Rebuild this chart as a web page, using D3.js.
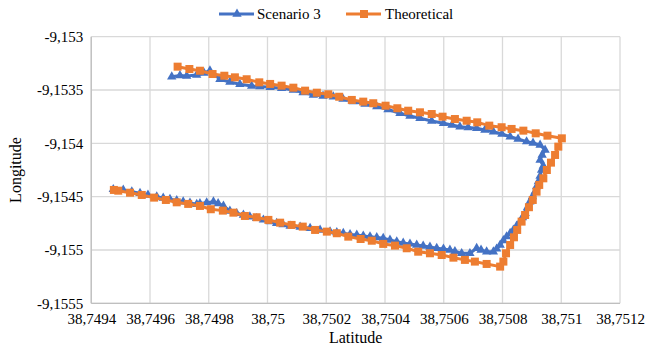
<!DOCTYPE html>
<html><head><meta charset="utf-8">
<script src="https://cdn.jsdelivr.net/npm/d3@7/dist/d3.min.js"></script>
<style>body{margin:0;background:#fff}svg{display:block}svg text{font-family:"Liberation Serif","Times New Roman",serif !important;fill:#000}</style>
</head><body><svg id="c" width="647" height="347"></svg>
<script>
const xTicks = [38.7494,38.7496,38.7498,38.75,38.7502,38.7504,38.7506,38.7508,38.751,38.7512];
const xTickLabels = ["38,7494","38,7496","38,7498","38,75","38,7502","38,7504","38,7506","38,7508","38,751","38,7512"];
const yTicks = [-9.153,-9.1535,-9.154,-9.1545,-9.155,-9.1555];
const yTickLabels = ["-9,153","-9,1535","-9,154","-9,1545","-9,155","-9,1555"];
const seriesNames = ["Scenario 3","Theoretical"];

const scenarioLat = [38.749674,38.749702,38.749725,38.749759,38.749784,38.749804,38.749838,38.749872,38.749906,38.749946,38.749974,38.750009,38.750048,38.750088,38.750121,38.750156,38.750189,38.750224,38.750257,38.750292,38.750332,38.750372,38.750410,38.750451,38.750485,38.750519,38.750559,38.750599,38.750628,38.750655,38.750683,38.750712,38.750740,38.750769,38.750798,38.750826,38.750853,38.750882,38.750904,38.750928,38.750945,38.750935,38.750928,38.750939,38.750933,38.750928,38.750922,38.750916,38.750911,38.750902,38.750893,38.750885,38.750877,38.750868,38.750860,38.750848,38.750837,38.750826,38.750814,38.750803,38.750792,38.750780,38.750769,38.750746,38.750727,38.750712,38.750689,38.750661,38.750638,38.750621,38.750599,38.750576,38.750553,38.750530,38.750508,38.750485,38.750462,38.750440,38.750417,38.750394,38.750372,38.750349,38.750326,38.750304,38.750281,38.750258,38.750236,38.750213,38.750179,38.750145,38.750111,38.750077,38.750053,38.750031,38.750009,38.749986,38.749963,38.749940,38.749918,38.749895,38.749872,38.749850,38.749832,38.749816,38.749793,38.749770,38.749759,38.749736,38.749713,38.749691,38.749668,38.749645,38.749623,38.749593,38.749566,38.749538,38.749509,38.749475];
const scenarioLon = [-9.153375,-9.153364,-9.153368,-9.153359,-9.153340,-9.153319,-9.153399,-9.153425,-9.153446,-9.153462,-9.153467,-9.153474,-9.153484,-9.153500,-9.153523,-9.153547,-9.153556,-9.153563,-9.153584,-9.153609,-9.153631,-9.153656,-9.153683,-9.153718,-9.153743,-9.153765,-9.153790,-9.153812,-9.153828,-9.153844,-9.153851,-9.153859,-9.153875,-9.153891,-9.153912,-9.153938,-9.153959,-9.153984,-9.153997,-9.154015,-9.154062,-9.154109,-9.154156,-9.154212,-9.154250,-9.154306,-9.154359,-9.154406,-9.154453,-9.154500,-9.154547,-9.154601,-9.154656,-9.154695,-9.154734,-9.154775,-9.154812,-9.154843,-9.154875,-9.154911,-9.154953,-9.154990,-9.155016,-9.155016,-9.155000,-9.154984,-9.155031,-9.155031,-9.155014,-9.155000,-9.154990,-9.154984,-9.154972,-9.154962,-9.154953,-9.154943,-9.154934,-9.154922,-9.154906,-9.154890,-9.154883,-9.154875,-9.154868,-9.154859,-9.154854,-9.154843,-9.154836,-9.154828,-9.154812,-9.154796,-9.154784,-9.154775,-9.154761,-9.154749,-9.154733,-9.154718,-9.154703,-9.154688,-9.154672,-9.154656,-9.154634,-9.154587,-9.154564,-9.154547,-9.154556,-9.154564,-9.154571,-9.154559,-9.154547,-9.154536,-9.154524,-9.154512,-9.154500,-9.154484,-9.154468,-9.154453,-9.154437,-9.154431];

const theoLat = [38.749694,38.749734,38.749770,38.749813,38.749853,38.749889,38.749929,38.749972,38.750009,38.750048,38.750088,38.750128,38.750168,38.750207,38.750244,38.750287,38.750326,38.750360,38.750402,38.750442,38.750479,38.750519,38.750559,38.750596,38.750638,38.750678,38.750714,38.750755,38.750797,38.750831,38.750871,38.750913,38.750953,38.751002,38.750990,38.750979,38.750965,38.750951,38.750939,38.750925,38.750916,38.750903,38.750890,38.750877,38.750865,38.750850,38.750839,38.750826,38.750812,38.750803,38.750792,38.750746,38.750706,38.750672,38.750633,38.750593,38.750553,38.750513,38.750474,38.750434,38.750394,38.750355,38.750317,38.750275,38.750236,38.750202,38.750162,38.750120,38.750082,38.750043,38.750003,38.749963,38.749923,38.749884,38.749848,38.749807,38.749770,38.749730,38.749691,38.749654,38.749614,38.749572,38.749532,38.749492,38.749477];
const theoLon = [-9.153281,-9.153303,-9.153319,-9.153350,-9.153366,-9.153381,-9.153399,-9.153428,-9.153443,-9.153459,-9.153478,-9.153506,-9.153525,-9.153540,-9.153563,-9.153593,-9.153609,-9.153624,-9.153647,-9.153671,-9.153694,-9.153709,-9.153725,-9.153750,-9.153772,-9.153788,-9.153803,-9.153834,-9.153849,-9.153865,-9.153881,-9.153906,-9.153928,-9.153953,-9.154031,-9.154109,-9.154181,-9.154250,-9.154328,-9.154390,-9.154453,-9.154531,-9.154599,-9.154672,-9.154734,-9.154812,-9.154881,-9.154953,-9.155031,-9.155109,-9.155156,-9.155131,-9.155109,-9.155093,-9.155072,-9.155047,-9.155031,-9.155016,-9.154984,-9.154959,-9.154943,-9.154913,-9.154897,-9.154875,-9.154843,-9.154828,-9.154812,-9.154781,-9.154765,-9.154744,-9.154718,-9.154693,-9.154681,-9.154650,-9.154631,-9.154618,-9.154587,-9.154568,-9.154553,-9.154531,-9.154509,-9.154484,-9.154463,-9.154444,-9.154437];

const blue = "#4472C4", orange = "#ED7D31";
const FONT = '"Liberation Serif","Times New Roman",serif';
const svg = d3.select("#c");
const m = {l:91.25, r:620, t:36.7, b:303.3};
const x = d3.scaleLinear().domain([38.7494,38.7512]).range([m.l,m.r]);
const y = d3.scaleLinear().domain([-9.1555,-9.153]).range([m.b,m.t]);

const g = svg.append("g");
g.selectAll(".vg").data(xTicks).enter().append("line")
  .attr("x1",d=>x(d)).attr("x2",d=>x(d)).attr("y1",m.t).attr("y2",m.b)
  .attr("stroke","#d9d9d9").attr("stroke-width",1.3);
g.selectAll(".hg").data(yTicks).enter().append("line")
  .attr("x1",m.l).attr("x2",m.r).attr("y1",d=>y(d)).attr("y2",d=>y(d))
  .attr("stroke","#d9d9d9").attr("stroke-width",1.3);
svg.append("line").attr("x1",m.l).attr("x2",m.l).attr("y1",m.t).attr("y2",m.b).attr("stroke","#bfbfbf").attr("stroke-width",1.3);
svg.append("line").attr("x1",m.l).attr("x2",m.r).attr("y1",m.b).attr("y2",m.b).attr("stroke","#bfbfbf").attr("stroke-width",1.3);

const xAxis = d3.axisBottom(x).tickValues(xTicks).tickSize(0).tickPadding(0).tickFormat((d,i)=>xTickLabels[i]);
const xa = svg.append("g").attr("transform",`translate(0,${m.b+8})`).call(xAxis).attr("font-family",FONT).attr("font-size",15);
xa.select(".domain").remove();
xa.selectAll("text").style("font-family",FONT).style("font-size","15px").attr("fill","#000").attr("dy","0.85em");
const yAxis = d3.axisLeft(y).tickValues(yTicks).tickSize(0).tickPadding(0).tickFormat((d,i)=>yTickLabels[i]);
const ya = svg.append("g").attr("transform",`translate(${m.l-8},0)`).call(yAxis).attr("font-family",FONT).attr("font-size",15);
ya.select(".domain").remove();
ya.selectAll("text").style("font-family",FONT).style("font-size","15px").attr("fill","#000");

svg.append("text").attr("x",(m.l+m.r)/2).attr("y",343).attr("text-anchor","middle").style("font-family",FONT).style("font-size","16px").text("Latitude");
svg.append("text").attr("transform",`translate(21,${(m.t+m.b)/2}) rotate(-90)`).attr("text-anchor","middle").style("font-family",FONT).style("font-size","16px").text("Longitude");

const line = d3.line().x(d=>x(d[0])).y(d=>y(d[1]));
const sData = scenarioLat.map((v,i)=>[v,scenarioLon[i]]);
const tData = theoLat.map((v,i)=>[v,theoLon[i]]);
const tri = d3.symbol().type(d3.symbolTriangle).size(38);

svg.append("path").datum(sData).attr("d",line).attr("fill","none").attr("stroke",blue).attr("stroke-width",3).attr("stroke-linejoin","round");
svg.selectAll(".st").data(sData).enter().append("path").attr("d",tri)
  .attr("transform",d=>`translate(${x(d[0])},${y(d[1])})`).attr("fill",blue);

svg.append("path").datum(tData).attr("d",line).attr("fill","none").attr("stroke",orange).attr("stroke-width",3).attr("stroke-linejoin","round");
svg.selectAll(".sq").data(tData).enter().append("rect")
  .attr("x",d=>x(d[0])-4).attr("y",d=>y(d[1])-4).attr("width",8).attr("height",8).attr("fill",orange);

const lg = svg.append("g");
const items = [{name:seriesNames[0],c:blue,x0:219,tx:257,sym:"tri"},{name:seriesNames[1],c:orange,x0:346,tx:385,sym:"sq"}];
items.forEach(it=>{
  lg.append("line").attr("x1",it.x0).attr("x2",it.x0+35).attr("y1",14).attr("y2",14).attr("stroke",it.c).attr("stroke-width",3);
  if(it.sym==="tri") lg.append("path").attr("d",tri).attr("transform",`translate(${it.x0+18},14)`).attr("fill",it.c);
  else lg.append("rect").attr("x",it.x0+14).attr("y",10).attr("width",8).attr("height",8).attr("fill",it.c);
  lg.append("text").attr("x",it.tx).attr("y",19).style("font-family",FONT).style("font-size","15px").text(it.name);
});
</script></body></html>
